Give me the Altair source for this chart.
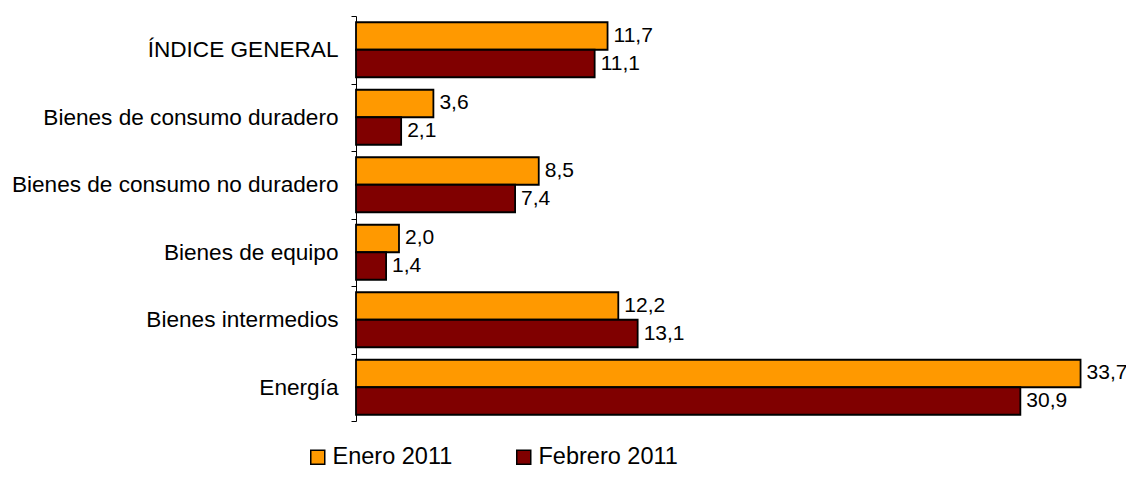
import altair as alt
import pandas as pd

categories = ["ÍNDICE GENERAL", "Bienes de consumo duradero", "Bienes de consumo no duradero",
              "Bienes de equipo", "Bienes intermedios", "Energía"]
series = ["Enero 2011", "Febrero 2011"]
enero = [11.7, 3.6, 8.5, 2.0, 12.2, 33.7]
febrero = [11.1, 2.1, 7.4, 1.4, 13.1, 30.9]
colors = ["#FF9900", "#800000"]

rows = []
for c, e, f in zip(categories, enero, febrero):
    rows.append({"cat": c, "serie": series[0], "value": e})
    rows.append({"cat": c, "serie": series[1], "value": f})
df = pd.DataFrame(rows)
df["label"] = df["value"].map(lambda v: f"{v:.1f}".replace(".", ","))

FONT = "Liberation Sans"

y = alt.Y("cat:N", sort=categories, title=None,
          scale=alt.Scale(paddingInner=0, paddingOuter=0),
          axis=alt.Axis(tickBand="extent", tickSize=5, tickColor="black",
                        domainColor="black", labelColor="black", labelFontSize=22.6,
                        labelFont=FONT, labelPadding=13, labelLimit=400))
yoff = alt.YOffset("serie:N", sort=series, scale=alt.Scale(paddingOuter=0.227, paddingInner=0))
x = alt.X("value:Q", scale=alt.Scale(domain=[0, 34], nice=False), axis=None)

bars = alt.Chart(df).mark_bar(stroke="black", strokeWidth=1.8, opacity=1).encode(
    x=x, y=y, yOffset=yoff,
    color=alt.Color("serie:N", sort=series,
                    scale=alt.Scale(domain=series, range=colors),
                    legend=alt.Legend(title=None, orient="none", direction="horizontal",
                                      legendX=-50, legendY=429, symbolType="square",
                                      symbolSize=196, symbolStrokeColor="black",
                                      symbolStrokeWidth=1.5, symbolOpacity=1,
                                      labelFontSize=23.5, labelFont=FONT, labelColor="black",
                                      labelOffset=3, columnPadding=59, padding=0)),
)

text = alt.Chart(df).mark_text(align="left", baseline="middle", dx=6, fontSize=21,
                               font=FONT, color="black").encode(
    x=x, y=alt.Y("cat:N", sort=categories), yOffset=yoff, text="label:N")

chart = alt.layer(bars, text).properties(
    width=731, height=405,
    padding={"left": 348, "top": 8, "right": 39, "bottom": 49},
    autosize=alt.AutoSizeParams(type="none"),
).configure_view(stroke=None)

chart.save("out.html", embed_options={"renderer": "svg", "actions": False})
